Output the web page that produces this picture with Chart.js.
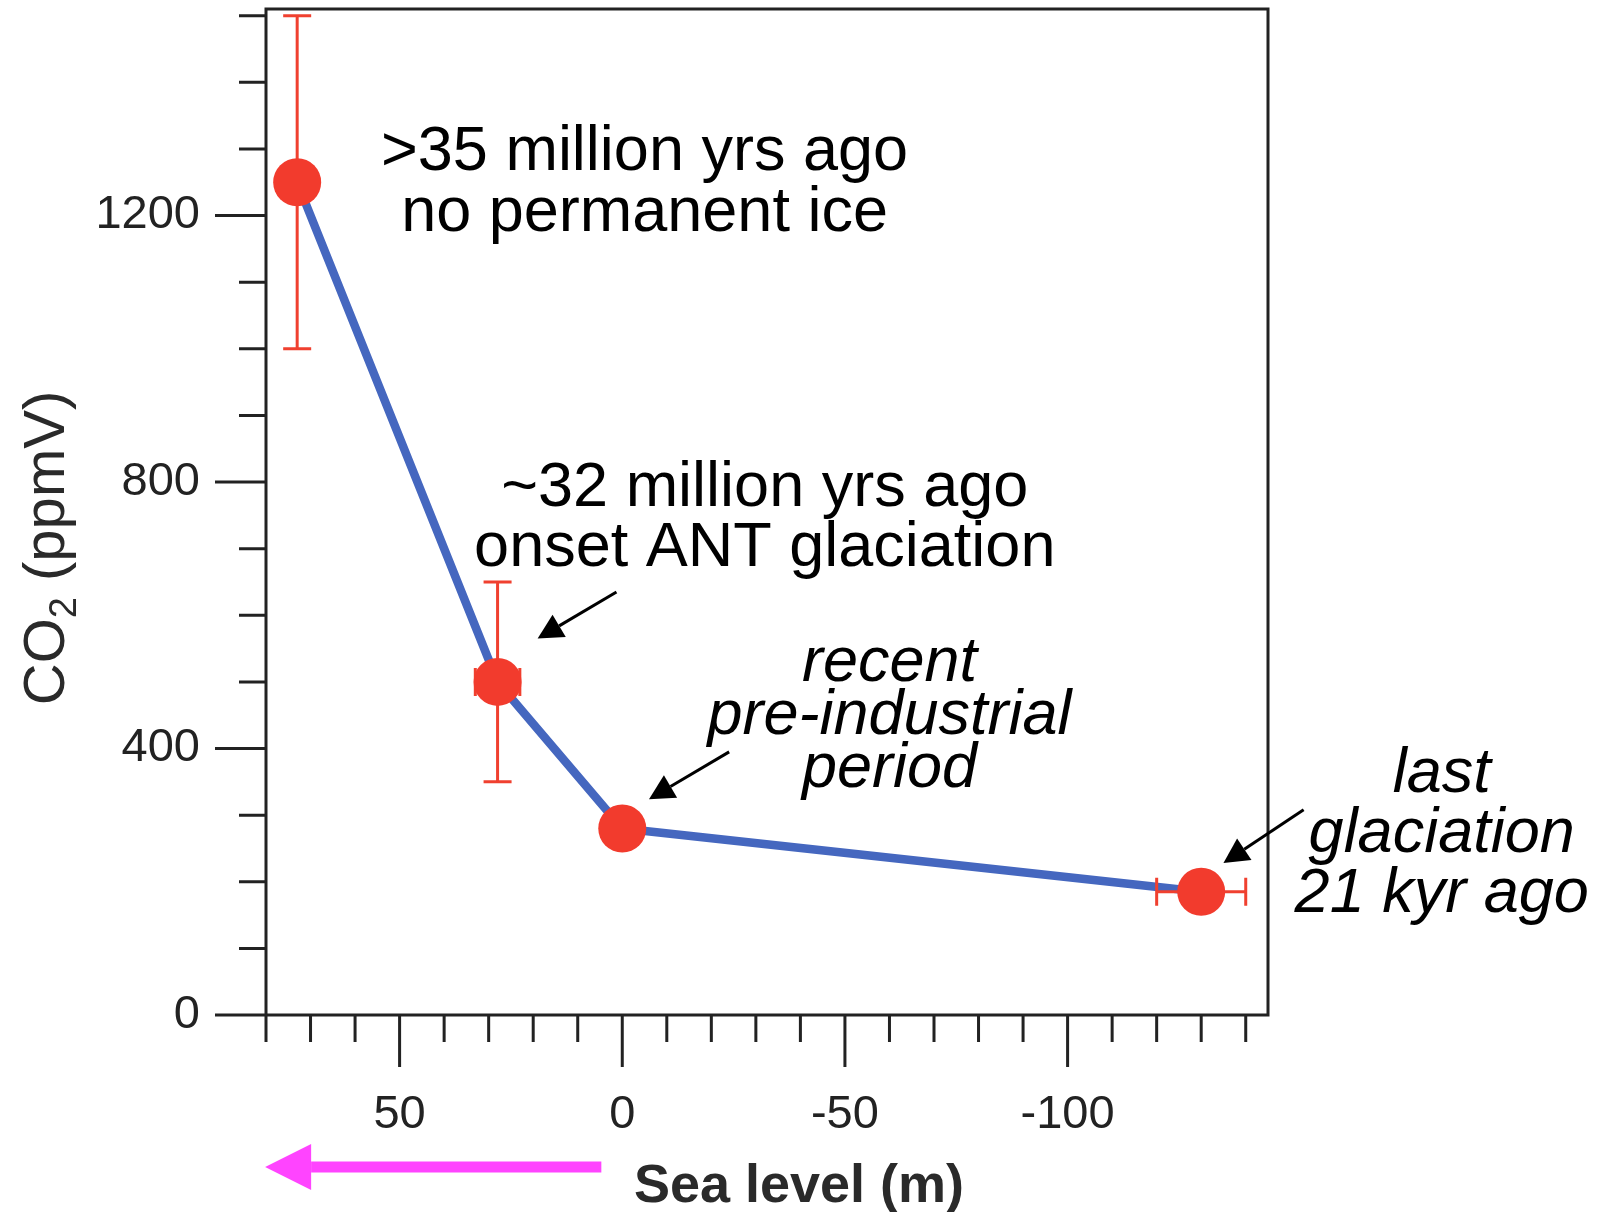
<!DOCTYPE html>
<html>
<head>
<meta charset="utf-8">
<title>CO2 vs sea level</title>
<script src="https://cdn.jsdelivr.net/npm/chart.js@4.4.1/dist/chart.umd.min.js"></script>
<style>
  html, body { margin:0; padding:0; background:#fff; }
  #wrap { width:1613px; height:1212px; }
</style>
</head>
<body>
<div id="wrap"><canvas id="chart" width="1613" height="1212"></canvas></div>
<script>
// data
const seaLevel = [73, 28, 0, -130];       // m
const co2      = [1250, 500, 280, 185];   // ppmV
const co2Lo    = [1000, 350, null, null];
const co2Hi    = [1500, 650, null, null];
const seaLo    = [null, 23, null, -140];
const seaHi    = [null, 33, null, -120];

const xTicks = [50, 0, -50, -100];
const xMinor = [80, 70, 60, 40, 30, 20, 10, -10, -20, -30, -40, -60, -70, -80, -90, -110, -120, -130, -140];
const yTicks = [0, 400, 800, 1200];
const yMinor = [100, 200, 300, 500, 600, 700, 900, 1000, 1100, 1300, 1400, 1500];

// annotation text, anchored in data units
const notes = [
  { lines: ['>35 million yrs ago', 'no permanent ice'], at: [-5, 1269], gap: 61, italic: false },
  { lines: ['~32 million yrs ago', 'onset ANT glaciation'], at: [-32, 764], gap: 60, italic: false },
  { lines: ['recent', 'pre-industrial', 'period'], at: [-60, 501], gap: 53, italic: true },
  { lines: ['last', 'glaciation', '21 kyr ago'], at: [-184, 335], gap: 60, italic: true }
];
const pointers = [
  { from: [1.3, 635], to: [19, 565] },
  { from: [-24, 395], to: [-6, 324] },
  { from: [-153, 308], to: [-135, 228] }
];

const FONT = '"Liberation Sans", Arial, Helvetica, sans-serif';
const RED = '#f23b2d';
const BLUE = '#4567bf';
const INK = '#222';
const noPad = () => ({ left: 0, top: 0, right: 0, bottom: 0 });

function arrow(ctx, x1, y1, x2, y2, len, half, width, color){
  const ang = Math.atan2(y2 - y1, x2 - x1);
  const bx = x2 - Math.cos(ang) * len, by = y2 - Math.sin(ang) * len;
  ctx.strokeStyle = color; ctx.fillStyle = color; ctx.lineWidth = width;
  ctx.beginPath(); ctx.moveTo(x1, y1); ctx.lineTo(bx, by); ctx.stroke();
  ctx.beginPath();
  ctx.moveTo(x2, y2);
  ctx.lineTo(bx + Math.sin(ang) * half, by - Math.cos(ang) * half);
  ctx.lineTo(bx - Math.sin(ang) * half, by + Math.cos(ang) * half);
  ctx.closePath(); ctx.fill();
}

const decor = {
  id: 'decor',
  afterDatasetDraw(chart, args){
    if(args.index !== 1) return;           // after the blue line, before the dots
    const ctx = chart.ctx, xs = chart.scales.x, ys = chart.scales.y;
    const cap = 14;
    ctx.save();
    ctx.strokeStyle = '#f0402f'; ctx.lineWidth = 3;
    for(let i=0;i<seaLevel.length;i++){
      const px = xs.getPixelForValue(seaLevel[i]);
      const py = ys.getPixelForValue(co2[i]);
      if(co2Lo[i] != null){
        const a = ys.getPixelForValue(co2Lo[i]), b = ys.getPixelForValue(co2Hi[i]);
        ctx.beginPath();
        ctx.moveTo(px, a); ctx.lineTo(px, b);
        ctx.moveTo(px-cap, a); ctx.lineTo(px+cap, a);
        ctx.moveTo(px-cap, b); ctx.lineTo(px+cap, b);
        ctx.stroke();
      }
      if(seaLo[i] != null){
        const a = xs.getPixelForValue(seaLo[i]), b = xs.getPixelForValue(seaHi[i]);
        ctx.beginPath();
        ctx.moveTo(a, py); ctx.lineTo(b, py);
        ctx.moveTo(a, py-cap); ctx.lineTo(a, py+cap);
        ctx.moveTo(b, py-cap); ctx.lineTo(b, py+cap);
        ctx.stroke();
      }
    }
    ctx.restore();
  },
  afterDraw(chart){
    const ctx = chart.ctx, xs = chart.scales.x, ys = chart.scales.y;
    const ca = chart.chartArea;
    ctx.save();
    // frame + ticks
    ctx.strokeStyle = INK; ctx.lineWidth = 3; ctx.lineCap = 'butt';
    ctx.beginPath();
    ctx.moveTo(ca.left, ca.top); ctx.lineTo(ca.right, ca.top); ctx.lineTo(ca.right, ca.bottom);
    ctx.moveTo(ca.left, ca.top - 1.5); ctx.lineTo(ca.left, ca.bottom);
    ctx.moveTo(ca.left, ca.bottom); ctx.lineTo(ca.right + 1.5, ca.bottom);
    xTicks.forEach(v => { const p = xs.getPixelForValue(v); ctx.moveTo(p, ca.bottom); ctx.lineTo(p, ca.bottom + 52); });
    xMinor.forEach(v => { const p = xs.getPixelForValue(v); ctx.moveTo(p, ca.bottom); ctx.lineTo(p, ca.bottom + 27); });
    yTicks.forEach(v => { const p = ys.getPixelForValue(v); ctx.moveTo(ca.left, p); ctx.lineTo(ca.left - 51, p); });
    yMinor.forEach(v => { const p = ys.getPixelForValue(v); ctx.moveTo(ca.left, p); ctx.lineTo(ca.left - 27, p); });
    ctx.stroke();

    // annotations
    ctx.fillStyle = '#000'; ctx.textAlign = 'center'; ctx.textBaseline = 'alphabetic';
    notes.forEach(n => {
      ctx.font = (n.italic ? 'italic ' : '') + '63px ' + FONT;
      const cx = xs.getPixelForValue(n.at[0]);
      const by = ys.getPixelForValue(n.at[1]);
      n.lines.forEach((t, k) => ctx.fillText(t, cx, by + k * n.gap));
    });
    pointers.forEach(p => {
      arrow(ctx, xs.getPixelForValue(p.from[0]), ys.getPixelForValue(p.from[1]),
                 xs.getPixelForValue(p.to[0]), ys.getPixelForValue(p.to[1]), 25, 13, 3, '#000');
    });

    // magenta direction arrow under the axis
    arrow(ctx, xs.getPixelForValue(4.7), 1167, xs.getPixelForValue(80.2), 1167, 46, 23, 11, '#ff44ff');

    // x title
    ctx.fillStyle = '#2a2a2a';
    ctx.font = 'bold 54px ' + FONT;
    ctx.textAlign = 'center';
    ctx.fillText('Sea level (m)', 799, 1202);

    // y title with subscript
    ctx.translate(43, 548);
    ctx.rotate(-Math.PI / 2);
    const big = '58px ' + FONT, small = '38px ' + FONT;
    ctx.font = big; const w1 = ctx.measureText('CO').width; const w3 = ctx.measureText(' (ppmV)').width;
    ctx.font = small; const w2 = ctx.measureText('2').width;
    let x0 = -(w1 + w2 + w3) / 2;
    ctx.textAlign = 'left';
    ctx.font = big; ctx.fillText('CO', x0, 21);
    ctx.font = small; ctx.fillText('2', x0 + w1, 33);
    ctx.font = big; ctx.fillText(' (ppmV)', x0 + w1 + w2, 21);
    ctx.restore();
  }
};

const pts = seaLevel.map((x, i) => ({ x: x, y: co2[i] }));

new Chart(document.getElementById('chart').getContext('2d'), {
  type: 'scatter',
  data: {
    datasets: [
      { label: 'dots', data: pts, order: 1, showLine: false,
        pointRadius: 24, pointBackgroundColor: RED, pointBorderWidth: 0, pointHoverRadius: 24 },
      { label: 'line', data: pts, order: 2, showLine: true, borderColor: BLUE, borderWidth: 8.5,
        pointRadius: 0, tension: 0, borderJoinStyle: 'round', borderCapStyle: 'round' }
    ]
  },
  options: {
    responsive: false,
    animation: false,
    events: [],
    layout: { autoPadding: false, padding: { left: 0, right: 345, top: 9, bottom: 0 } },
    plugins: { legend: { display: false }, tooltip: { enabled: false }, title: { display: false } },
    scales: {
      x: {
        type: 'linear', reverse: true, min: -145, max: 80,
        grid: { display: false, drawTicks: false }, border: { display: false },
        afterBuildTicks: s => { s.ticks = xTicks.map(v => ({ value: v })); },
        afterFit: s => { s.height = 197; s.getPadding = noPad; },
        ticks: { padding: 72, color: INK, maxRotation: 0, autoSkip: false,
                 font: { family: FONT, size: 47 }, callback: v => String(v) }
      },
      y: {
        type: 'linear', min: 0, max: 1510,
        grid: { display: false, drawTicks: false }, border: { display: false },
        afterBuildTicks: s => { s.ticks = yTicks.map(v => ({ value: v })); },
        afterFit: s => { s.width = 266; s.getPadding = noPad; },
        ticks: { padding: 66, color: INK, autoSkip: false,
                 font: { family: FONT, size: 47 }, callback: v => String(v) }
      }
    }
  },
  plugins: [decor]
});
</script>
</body>
</html>
